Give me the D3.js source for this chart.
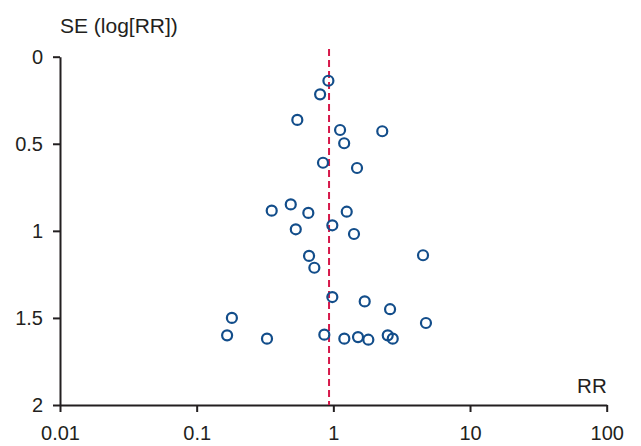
<!DOCTYPE html>
<html>
<head>
<meta charset="utf-8">
<script src="https://cdn.jsdelivr.net/npm/d3@7"></script>
<style>
  html, body { margin: 0; padding: 0; background: #fff; }
  svg { display: block; }
  text { font-family: "Liberation Sans", Arial, Helvetica, sans-serif; fill: #231f20; }
</style>
</head>
<body>
<svg id="chart" width="641" height="446"></svg>
<script>
// Funnel plot: risk ratio of each study against its standard error
const rr = [0.92, 0.80, 0.545, 1.12, 2.28, 1.20, 0.84, 1.49,
            0.354, 0.488, 0.656, 1.253, 0.531, 0.983, 1.416,
            0.664, 0.726, 4.53, 0.983, 1.696, 2.60, 0.181, 4.76,
            0.167, 0.327, 0.859, 1.203, 1.515, 1.803, 2.50, 2.72];
const se = [0.138, 0.216, 0.363, 0.421, 0.428, 0.497, 0.609, 0.639,
            0.884, 0.848, 0.897, 0.890, 0.991, 0.968, 1.018,
            1.144, 1.212, 1.140, 1.380, 1.405, 1.450, 1.500, 1.529,
            1.600, 1.619, 1.596, 1.619, 1.610, 1.625, 1.600, 1.619];
const pooledRR = 0.93;
const xTicks = [0.01, 0.1, 1, 10, 100];
const xTickLabels = ["0.01", "0.1", "1", "10", "100"];
const yTicks = [0, 0.5, 1, 1.5, 2];
const yTickLabels = ["0", "0.5", "1", "1.5", "2"];

const svg = d3.select("#chart");
const margin = {left: 60, right: 34.3, top: 56.7, bottom: 41};
const W = 641, H = 446;

const x = d3.scaleLog().domain([0.01, 100]).range([margin.left, W - margin.right]);
const y = d3.scaleLinear().domain([0, 2]).range([margin.top, H - margin.bottom]);

const ink = "#231f20";

// x axis
const gx = svg.append("g")
  .attr("transform", `translate(0,${y(2)})`)
  .call(d3.axisBottom(x).tickValues(xTicks)
    .tickFormat((d, i) => xTickLabels[i])
    .tickSize(7).tickSizeOuter(0).tickPadding(14));
gx.select(".domain").attr("stroke", ink).attr("stroke-width", 2);
gx.selectAll(".tick line").attr("stroke", ink).attr("stroke-width", 2);
gx.selectAll(".tick text").attr("font-size", 20).attr("fill", ink);

// y axis
const gy = svg.append("g")
  .attr("transform", `translate(${x(0.01)},0)`)
  .call(d3.axisLeft(y).tickValues(yTicks)
    .tickFormat((d, i) => yTickLabels[i])
    .tickSize(7).tickSizeOuter(0).tickPadding(10));
gy.select(".domain").attr("stroke", ink).attr("stroke-width", 2);
gy.selectAll(".tick line").attr("stroke", ink).attr("stroke-width", 2);
gy.selectAll(".tick text").attr("font-size", 20).attr("fill", ink);

// axis titles
svg.append("text")
  .attr("x", x(0.01)).attr("y", 32.5)
  .attr("font-size", 21)
  .text("SE (log[RR])");
svg.append("text")
  .attr("x", x(100)).attr("y", 393)
  .attr("text-anchor", "end")
  .attr("font-size", 20.5)
  .text("RR");

// pooled estimate reference line
svg.append("line")
  .attr("x1", x(pooledRR)).attr("x2", x(pooledRR))
  .attr("y1", 49).attr("y2", y(2))
  .attr("stroke", "#d6184a").attr("stroke-width", 2)
  .attr("stroke-dasharray", "7,4");

// studies
svg.append("g").selectAll("circle")
  .data(rr.map((v, i) => ({rr: v, se: se[i]})))
  .join("circle")
  .attr("cx", d => x(d.rr))
  .attr("cy", d => y(d.se))
  .attr("r", 5)
  .attr("fill", "none")
  .attr("stroke", "#124d8a")
  .attr("stroke-width", 2.2);
</script>
</body>
</html>
